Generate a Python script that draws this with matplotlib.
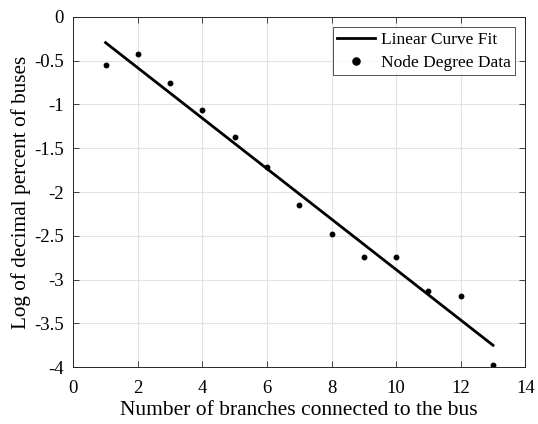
import numpy as np
import matplotlib
matplotlib.use("Agg")
import matplotlib.pyplot as plt

plt.rcParams['font.family'] = ['Liberation Serif', 'DejaVu Serif']
plt.rcParams['axes.unicode_minus'] = False

# Node degree distribution
degree = [1, 2, 3, 4, 5, 6, 7, 8, 9, 10, 11, 12, 13]
log_pct = [-0.55, -0.42, -0.76, -1.07, -1.37, -1.72, -2.15, -2.48,
           -2.74, -2.74, -3.13, -3.19, -3.97]

x_ticks = [0, 2, 4, 6, 8, 10, 12, 14]
y_ticks = [0, -0.5, -1, -1.5, -2, -2.5, -3, -3.5, -4]
y_tick_labels = ['0', '-0.5', '-1', '-1.5', '-2', '-2.5', '-3', '-3.5', '-4']

# Least-squares linear fit
slope, intercept = np.polyfit(degree, log_pct, 1)
fit_x = np.array([degree[0], degree[-1]])
fit_y = slope * fit_x + intercept

fig = plt.figure(figsize=(5.38, 4.24), dpi=100)
ax = fig.add_axes([0.1362, 0.1337, 0.9764 - 0.1362, 0.9606 - 0.1337])

ax.plot(fit_x, fit_y, color='black', linewidth=2.0, label='Linear Curve Fit')
ax.plot(degree, log_pct, linestyle='none', marker='o', markersize=3.2,
        color='black', label='Node Degree Data')

ax.set_xlim(0, 14)
ax.set_ylim(-4, 0)
ax.set_xticks(x_ticks)
ax.set_yticks(y_ticks)
ax.set_yticklabels(y_tick_labels)
ax.grid(True, color='#e3e3e3', linewidth=0.8)
ax.set_axisbelow(True)
ax.tick_params(direction='in', top=True, right=True, labelsize=13.5,
               length=4, width=0.6, color='#262626')
ax.tick_params(axis='x', pad=9)
ax.tick_params(axis='y', pad=7)
for s in ax.spines.values():
    s.set_linewidth(0.7)
    s.set_color('#262626')

ax.set_xlabel('Number of branches connected to the bus', fontsize=15.5, labelpad=3)
ax.set_ylabel('Log of decimal percent of buses', fontsize=15.3, labelpad=2)

leg = ax.legend(loc='upper right', fontsize=12.5, frameon=True, fancybox=False,
                edgecolor='#262626', borderpad=0.25, handlelength=2.2,
                handletextpad=0.3, labelspacing=0.4, markerscale=1.6,
                borderaxespad=0.6)
leg.get_frame().set_linewidth(0.7)

fig.savefig('out.png', dpi=100)
